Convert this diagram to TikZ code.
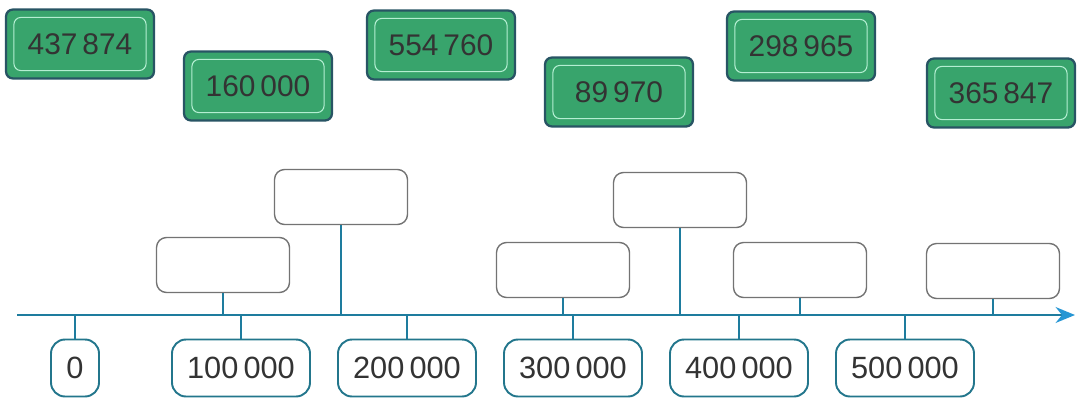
\documentclass[tikz,border=0pt]{standalone}
\usepackage{fontspec}
\setmainfont{Liberation Sans}
\usepackage{tikz}
\usetikzlibrary{arrows.meta,positioning,calc}

\definecolor{cardgreen}{RGB}{56,164,108}
\definecolor{carddark}{RGB}{40,84,100}
\definecolor{cardlight}{RGB}{180,238,210}
\definecolor{linecol}{RGB}{30,124,158}
\definecolor{tipcol}{RGB}{38,150,212}
\definecolor{boxcol}{RGB}{35,118,140}

\tikzset{
  card/.style={draw=carddark, line width=1.3pt, fill=cardgreen, rounded corners=4pt,
    minimum width=2.96cm, minimum height=1.38cm, inner sep=0pt,
    font=\fontsize{17}{17}\selectfont, text=black!80,
    path picture={\draw[cardlight, line width=0.6pt]
      ($(path picture bounding box.south west)+(4.5pt,4.5pt)$) rectangle
      ($(path picture bounding box.north east)-(4.5pt,4.5pt)$);}},
  blank/.style={draw=black!55, line width=0.8pt, rounded corners=0.2cm,
    minimum width=2.66cm, minimum height=1.1cm},
  valbox/.style={draw=boxcol, line width=1.1pt, rounded corners=0.28cm,
    minimum width=2.76cm, minimum height=1.14cm, inner sep=0pt,
    font=\fontsize{17.5}{17.5}\selectfont, text=black!80},
  tick/.style={draw=linecol, line width=1.3pt},
  axis/.style={draw=linecol, line width=1.4pt,
    -{Stealth[length=11pt,width=9pt,color=tipcol]}}
}

\begin{document}
\begin{tikzpicture}[x=0.02cm,y=-0.02cm]

  \useasboundingbox (0,0) rectangle (1078,399);

  % Number cards
  \node[card] (c1) at (80,44)   {437\,874};
  \node[card] (c2) at (258,86)  {160\,000};
  \node[card] (c3) at (441,45)  {554\,760};
  \node[card] (c4) at (619,92)  {89\,970};
  \node[card] (c5) at (801,46)  {298\,965};
  \node[card] (c6) at (1001,93) {365\,847};

  % Number line
  \coordinate (start) at (17,315);
  \coordinate (end) at (1075,315);
  \draw[axis] (start) -- (end);

  % Values below the line
  \node[valbox, minimum width=0.96cm] (v0) at (75,368) {0};
  \foreach \i/\val in {1/100,2/200,3/300,4/400,5/500} {
      \node[valbox] (v\i) at (75+166*\i,368) {\val\,000};
  }
  \foreach \i in {0,...,5} {
      \draw[tick] (v\i.north) -- (v\i.north |- start);
  }

  % Empty boxes above the line
  \node[blank] (b1) at (223,265) {};
  \node[blank] (b2) at (341,197) {};
  \node[blank] (b3) at (563,270) {};
  \node[blank] (b4) at (680,200) {};
  \node[blank] (b5) at (800,270) {};
  \node[blank] (b6) at (993,271) {};
  \foreach \i in {1,...,6} {
      \draw[tick] (b\i.south) -- (b\i.south |- start);
  }

\end{tikzpicture}
\end{document}
